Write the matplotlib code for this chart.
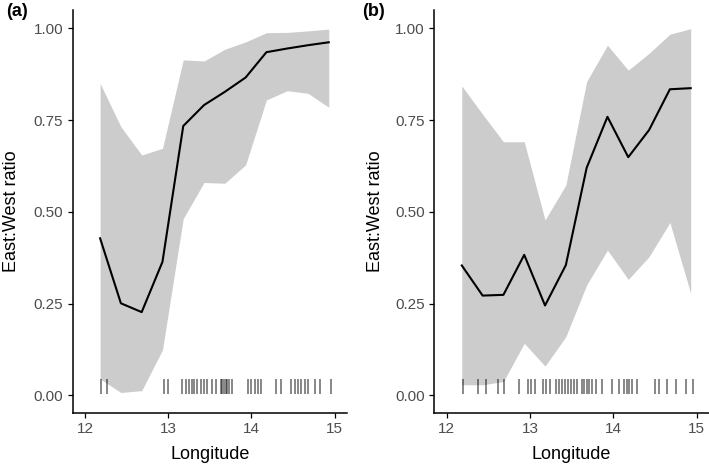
import matplotlib
matplotlib.use("Agg")
import matplotlib.pyplot as plt

plt.rcParams["font.family"] = ["Liberation Sans", "DejaVu Sans"]

# longitude grid of the fitted curve (same in both panels)
lon = [12.18, 12.43, 12.68, 12.93, 13.18, 13.43, 13.68, 13.93, 14.18, 14.43, 14.68, 14.93]

# panel (a)
fit_a = [0.428, 0.251, 0.227, 0.364, 0.734, 0.791, 0.827, 0.866, 0.935, 0.945, 0.954, 0.962]
upper_a = [0.850, 0.732, 0.655, 0.673, 0.914, 0.911, 0.943, 0.963, 0.988, 0.989, 0.993, 0.998]
lower_a = [0.045, 0.008, 0.013, 0.124, 0.482, 0.580, 0.578, 0.628, 0.805, 0.830, 0.823, 0.785]
rug_a = [12.19, 12.26, 12.95, 13.00, 13.16, 13.21, 13.25, 13.28, 13.31, 13.35, 13.39,
         13.43, 13.47, 13.53, 13.57, 13.63, 13.65, 13.67, 13.70, 13.71, 13.73, 13.77,
         13.96, 14.00, 14.04, 14.08, 14.12, 14.30, 14.35, 14.48, 14.52, 14.56, 14.60,
         14.64, 14.68, 14.76, 14.82, 14.96]

# panel (b)
fit_b = [0.354, 0.272, 0.274, 0.383, 0.245, 0.355, 0.620, 0.759, 0.649, 0.723, 0.834, 0.837]
upper_b = [0.843, 0.766, 0.691, 0.691, 0.478, 0.573, 0.855, 0.954, 0.886, 0.932, 0.984, 0.999]
lower_b = [0.029, 0.029, 0.038, 0.142, 0.080, 0.160, 0.301, 0.396, 0.316, 0.378, 0.471, 0.278]
rug_b = [12.19, 12.37, 12.47, 12.61, 12.69, 12.87, 12.97, 13.01, 13.06, 13.16, 13.19,
         13.24, 13.31, 13.35, 13.38, 13.42, 13.45, 13.49, 13.53, 13.57, 13.63, 13.65,
         13.68, 13.71, 13.74, 13.79, 13.87, 13.98, 14.07, 14.13, 14.16, 14.19, 14.23,
         14.29, 14.50, 14.55, 14.65, 14.75, 14.87, 14.96]

x_ticks = [12, 13, 14, 15]
y_ticks = [0.0, 0.25, 0.5, 0.75, 1.0]
y_ticklabels = ["0.00", "0.25", "0.50", "0.75", "1.00"]

fig = plt.figure(figsize=(7.09, 4.66), dpi=100)
ax_a = fig.add_axes([0.1025, 0.1144, 0.387, 0.8642])
ax_b = fig.add_axes([0.6126, 0.1144, 0.3874, 0.8642])


def draw_panel(ax, fit, upper, lower, rug, label_x):
    ax.fill_between(lon, lower, upper, color="#cccccc", linewidth=0)
    ax.plot(lon, fit, color="black", linewidth=1.5)
    ax.vlines(rug, 0.004, 0.045, color="black", alpha=0.55, linewidth=1.2)

    ax.set_xlim(11.85, 15.15)
    ax.set_ylim(-0.047, 1.05)
    ax.set_xticks(x_ticks)
    ax.set_yticks(y_ticks)
    ax.set_yticklabels(y_ticklabels)

    for side in ["top", "right"]:
        ax.spines[side].set_visible(False)
    for side in ["left", "bottom"]:
        ax.spines[side].set_linewidth(1.1)

    ax.tick_params(length=3.3, width=0.9, pad=3.5, labelsize=11, labelcolor="#4d4d4d")

    ax.set_xlabel("Longitude", fontsize=13)
    ax.xaxis.set_label_coords(0.5, -0.082)
    ax.xaxis.label.set_va("top")
    ax.set_ylabel("East:West ratio", fontsize=13)
    ax.yaxis.set_label_coords(label_x, 0.5)


draw_panel(ax_a, fit_a, upper_a, lower_a, rug_a, -0.192)
draw_panel(ax_b, fit_b, upper_b, lower_b, rug_b, -0.183)

fig.text(0.009, 0.994, "(a)", fontsize=13, fontweight="bold", va="top", ha="left")
fig.text(0.511, 0.994, "(b)", fontsize=13, fontweight="bold", va="top", ha="left")

fig.savefig("out.png", dpi=100)
